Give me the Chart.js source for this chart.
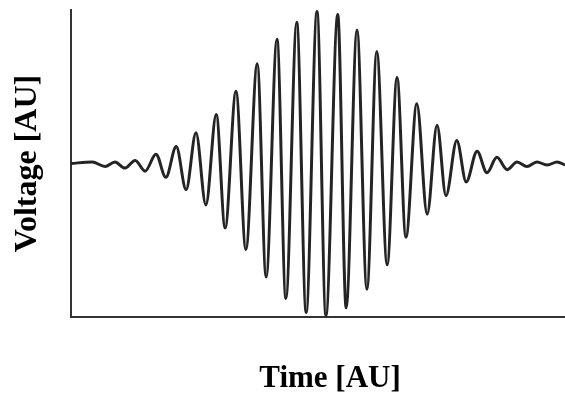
<!DOCTYPE html>
<html>
<head>
<meta charset="utf-8">
<script src="https://cdn.jsdelivr.net/npm/chart.js@4"></script>
<style>
  html, body { margin: 0; padding: 0; background: #fff; }
  #wrap { width: 565px; height: 396px; }
</style>
</head>
<body>
<div id="wrap"><canvas id="myChart" width="565" height="396"></canvas></div>
<script>
// time positions (AU) of the traced extrema
const times = [0, 4.3, 6.9, 8.9, 10.9, 13.0, 15.0, 17.2, 19.2, 21.3, 23.3, 25.3, 27.3, 29.4,
  31.2, 33.4, 35.4, 37.7, 39.5, 41.7, 43.5, 45.7, 47.6, 49.8, 51.6, 54.0, 55.7, 57.9,
  59.9, 61.9, 64.0, 66.0, 67.8, 70.0, 72.1, 74.1, 75.9, 78.1, 80.0, 82.2, 84.2, 86.2,
  88.3, 90.3, 92.3, 94.3, 96.4, 98.4, 100];
// voltage (AU) at those points
const voltage = [0, 0.01, -0.02, 0.01, -0.03, 0.02, -0.05, 0.06, -0.09, 0.11, -0.17, 0.20, -0.27, 0.32,
  -0.42, 0.47, -0.56, 0.65, -0.74, 0.81, -0.88, 0.92, -0.97, 0.99, -0.99, 0.97, -0.94, 0.87,
  -0.82, 0.73, -0.66, 0.56, -0.48, 0.39, -0.33, 0.25, -0.21, 0.15, -0.12, 0.08, -0.06, 0.04,
  -0.04, 0.01, -0.02, 0.01, -0.01, 0.01, -0.01];

const xTitle = 'Time [AU]';
const yTitle = 'Voltage [AU]';

const points = times.map((t, i) => ({ x: t, y: voltage[i] }));

const serif = '"Liberation Serif", "Times New Roman", serif';

// x title sits a bit right of the plot centre in the original, so draw it here
const xTitlePlugin = {
  id: 'xTitle',
  afterDraw(chart) {
    const c = chart.ctx;
    const area = chart.chartArea;
    c.save();
    c.font = 'bold 31px ' + serif;
    c.fillStyle = '#000';
    c.textAlign = 'center';
    c.textBaseline = 'middle';
    c.fillText(xTitle, (area.left + area.right) / 2 + 12, area.bottom + 62);
    c.restore();
  }
};

const ctx = document.getElementById('myChart');
new Chart(ctx, {
  type: 'line',
  data: {
    datasets: [{
      data: points,
      borderColor: '#242424',
      borderWidth: 3,
      pointRadius: 0,
      fill: false,
      cubicInterpolationMode: 'monotone'
    }]
  },
  options: {
    responsive: false,
    animation: false,
    layout: { padding: { top: 10, right: 0, bottom: 0, left: 0 } },
    plugins: { legend: { display: false }, tooltip: { enabled: false } },
    scales: {
      x: {
        type: 'linear',
        min: 0,
        max: 100,
        grid: { display: false, drawTicks: false },
        border: { display: true, color: '#333', width: 2 },
        ticks: { display: false },
        afterFit: (scale) => { scale.height = 79; }
      },
      y: {
        min: -1,
        max: 1,
        grid: { display: false, drawTicks: false },
        border: { display: true, color: '#333', width: 2 },
        ticks: { display: false },
        title: {
          display: true,
          text: yTitle,
          color: '#000',
          font: { family: serif, size: 32, weight: 'bold', lineHeight: 1 },
          padding: { top: 12, bottom: 27 }
        }
      }
    }
  },
  plugins: [xTitlePlugin]
});
</script>
</body>
</html>
